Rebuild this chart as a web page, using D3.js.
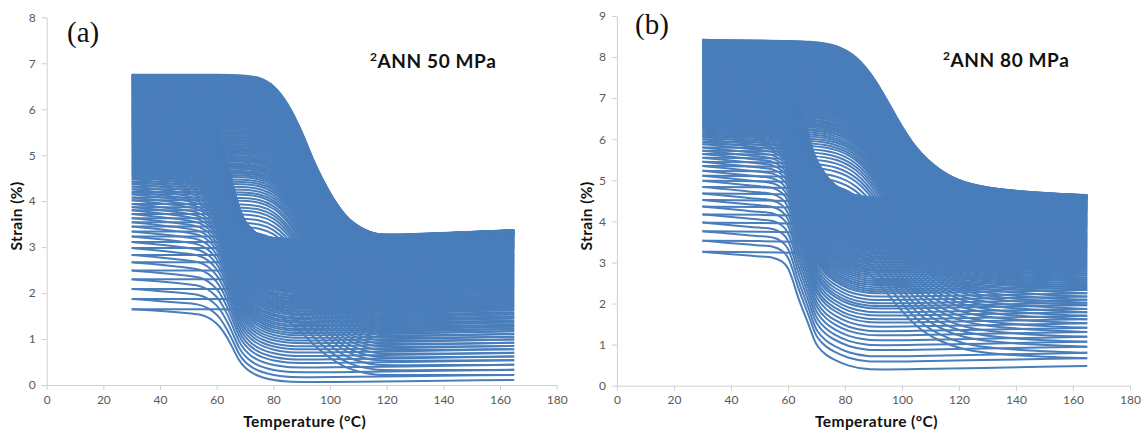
<!DOCTYPE html>
<html>
<head>
<meta charset="utf-8">
<script src="https://cdn.jsdelivr.net/npm/d3@7"></script>
<style>
  html, body { margin: 0; padding: 0; background: #ffffff; }
  svg { display: block; }
</style>
</head>
<body>
<svg id="chart" width="1145" height="432"></svg>
<script>
// ---- axis ticks ----
const tempTicks = [0, 20, 40, 60, 80, 100, 120, 140, 160, 180];
const strainTicksA = [0, 1, 2, 3, 4, 5, 6, 7, 8];
const strainTicksB = [0, 1, 2, 3, 4, 5, 6, 7, 8, 9];

// ---- labels ----
const panelTags = ["(a)", "(b)"];
const stressLabels = ["ANN 50 MPa", "ANN 80 MPa"];
const xTitle = "Temperature (°C)";
const yTitle = "Strain (%)";

// ---- 50 MPa: strain at 30 °C after each cooling (one value per cycle) ----
const strainColdA = [
  1.65, 1.87, 2.09, 2.30, 2.49, 2.67, 2.83, 2.98, 3.11, 3.23, 3.34, 3.45,
  3.54, 3.63, 3.72, 3.80, 3.87, 3.94, 4.02, 4.08, 4.15, 4.20, 4.26, 4.32,
  4.38, 4.43, 4.48, 4.53, 4.57, 4.61,
  4.64, 4.67, 4.71, 4.74, 4.77, 4.80, 4.83, 4.87, 4.90, 4.93, 4.96, 4.99, 5.03, 5.06,
  5.09, 5.12, 5.14, 5.17, 5.20, 5.23, 5.26, 5.28, 5.31, 5.34, 5.37, 5.40, 5.42, 5.45, 5.48, 5.51,
  5.53, 5.56, 5.58, 5.61, 5.63, 5.65, 5.68, 5.70, 5.73, 5.75, 5.77, 5.80, 5.82, 5.85, 5.87, 5.89, 5.92, 5.94,
  5.96, 5.98, 6.00, 6.02, 6.05, 6.07, 6.09, 6.11, 6.13, 6.15, 6.17, 6.19, 6.21, 6.23, 6.26, 6.28, 6.30, 6.32, 6.34, 6.36,
  6.38, 6.40, 6.41, 6.43, 6.45, 6.47, 6.48, 6.50, 6.52, 6.54, 6.56, 6.57, 6.59, 6.61, 6.63, 6.64, 6.66, 6.68, 6.70, 6.72, 6.73, 6.75
];
// ---- 50 MPa: strain at 165 °C before each cooling (cycles + final heating end) ----
const strainHotA = [
  0.11, 0.22, 0.33, 0.44, 0.54, 0.62, 0.70, 0.78, 0.85, 0.92, 0.99, 1.05, 1.11, 1.17, 1.22,
  1.27, 1.31, 1.36, 1.40, 1.45, 1.49, 1.54, 1.58, 1.63, 1.67,
  1.71, 1.74, 1.78, 1.81, 1.85, 1.88, 1.92, 1.95, 1.99, 2.02, 2.06, 2.09, 2.13, 2.16,
  2.19, 2.21, 2.24, 2.27, 2.29, 2.32, 2.35, 2.38, 2.40, 2.43, 2.46, 2.48, 2.51, 2.54, 2.56, 2.59,
  2.61, 2.63, 2.65, 2.67, 2.69, 2.72, 2.74, 2.76, 2.78, 2.80, 2.82, 2.84, 2.86, 2.88, 2.91, 2.93, 2.95, 2.97,
  2.98, 2.99, 3.01, 3.02, 3.04, 3.05, 3.06, 3.08, 3.09, 3.10, 3.12, 3.13, 3.14, 3.16, 3.17, 3.18, 3.20, 3.21, 3.22, 3.24, 3.25, 3.26,
  3.265, 3.27, 3.275, 3.28, 3.285, 3.29, 3.295, 3.30, 3.305, 3.31, 3.315, 3.32, 3.325, 3.33, 3.335, 3.34,
  3.344, 3.348, 3.352, 3.356, 3.36, 3.362, 3.364, 3.366, 3.368, 3.37
];
// ---- 50 MPa: transformation profiles (fraction of strain change vs temperature) ----
const coolTempsA = [30, 40, 45, 50, 54, 57, 60, 62, 65, 68, 70, 72, 74, 76, 80, 85, 90];
const coolFirstA = [1, 0.975, 0.96, 0.945, 0.93, 0.89, 0.81, 0.72, 0.53, 0.28, 0.2, 0.14, 0.1, 0.07, 0.03, 0.01, 0];
const coolLastA  = [1, 0.985, 0.975, 0.955, 0.91, 0.84, 0.71, 0.6, 0.37, 0.18, 0.105, 0.065, 0.035, 0.02, 0.008, 0.002, 0];
const heatTempsA = [30, 50, 60, 70, 75, 80, 85, 90, 94, 97, 101, 105, 108, 112, 116, 120];
const heatDropA  = [0, 0, 0, 0.003, 0.015, 0.06, 0.17, 0.35, 0.53, 0.64, 0.77, 0.87, 0.92, 0.965, 0.99, 1];

// ---- 80 MPa: strain at 30 °C after each cooling ----
const strainColdB = [
  3.26, 3.53, 3.76, 3.97, 4.17, 4.36, 4.52, 4.68, 4.84, 4.99, 5.11, 5.23,
  5.35, 5.45, 5.55, 5.64, 5.72, 5.80, 5.88, 5.94,
  6.00, 6.06, 6.11, 6.16, 6.21, 6.26,
  6.29, 6.33, 6.36, 6.39, 6.42, 6.46, 6.49, 6.52, 6.56, 6.59, 6.62, 6.66, 6.69, 6.72,
  6.75, 6.78, 6.80, 6.83, 6.86, 6.89, 6.92, 6.94, 6.97, 7.00, 7.03, 7.06, 7.08, 7.11, 7.14, 7.17,
  7.19, 7.21, 7.24, 7.26, 7.28, 7.31, 7.33, 7.35, 7.38, 7.40, 7.42, 7.45, 7.47, 7.49, 7.52, 7.54, 7.56, 7.58,
  7.60, 7.62, 7.64, 7.66, 7.68, 7.70, 7.72, 7.74, 7.76, 7.78, 7.80, 7.81, 7.83, 7.85, 7.87, 7.89, 7.91, 7.93, 7.95, 7.97, 7.99, 8.00,
  8.02, 8.04, 8.06, 8.07, 8.09, 8.11, 8.13, 8.14, 8.16, 8.18, 8.20, 8.21, 8.23, 8.25, 8.27, 8.28, 8.30, 8.32, 8.34, 8.35, 8.37, 8.39, 8.41, 8.42
];
// ---- 80 MPa: strain at 165 °C ----
const strainHotB = [
  0.48, 0.67, 0.80, 0.95, 1.07, 1.19, 1.31, 1.41, 1.52, 1.62, 1.70, 1.79, 1.87, 1.96, 2.02, 2.09, 2.17, 2.25, 2.33,
  2.38, 2.43, 2.48, 2.53, 2.58, 2.63, 2.68, 2.73, 2.78, 2.83,
  2.87, 2.91, 2.95, 2.99, 3.03, 3.07, 3.11, 3.15, 3.19, 3.23, 3.27, 3.31, 3.35, 3.39,
  3.42, 3.45, 3.48, 3.51, 3.54, 3.57, 3.60, 3.63, 3.66, 3.69, 3.72, 3.75, 3.78, 3.81, 3.84, 3.87,
  3.89, 3.91, 3.94, 3.96, 3.98, 4.00, 4.02, 4.05, 4.07, 4.09, 4.11, 4.13, 4.16, 4.18, 4.20, 4.22, 4.24, 4.27,
  4.28, 4.29, 4.31, 4.32, 4.33, 4.35, 4.36, 4.37, 4.39, 4.40, 4.41, 4.43, 4.44, 4.45, 4.47, 4.48, 4.49, 4.51, 4.52, 4.53,
  4.535, 4.54, 4.545, 4.55, 4.555, 4.56, 4.565, 4.57, 4.575, 4.58, 4.585, 4.59, 4.595, 4.60, 4.605, 4.61,
  4.615, 4.62, 4.624, 4.628, 4.632, 4.636, 4.638, 4.64
];
// ---- 80 MPa: transformation profiles ----
const coolTempsB = [30, 40, 45, 50, 55, 58, 60, 62, 63, 65, 67, 68.5, 70, 73.5, 76, 81, 88, 95];
const coolFirstB = [1, 0.98, 0.97, 0.96, 0.955, 0.92, 0.875, 0.74, 0.65, 0.52, 0.4, 0.3, 0.2, 0.12, 0.087, 0.03, 0, 0];
const coolLastB  = [1, 0.99, 0.98, 0.965, 0.93, 0.88, 0.82, 0.72, 0.66, 0.53, 0.42, 0.31, 0.24, 0.14, 0.09, 0.03, 0.008, 0];
const heatTempsB = [30, 50, 70, 77, 84, 91, 98, 105, 113, 121, 133, 151, 165];
const heatDropB  = [0, 0.003, 0.01, 0.035, 0.1, 0.26, 0.5, 0.71, 0.84, 0.92, 0.963, 0.989, 1];

const lineColor = "#4a7ebb";

const panels = [
  {
    tag: panelTags[0], stress: stressLabels[0], yTicks: strainTicksA,
    xRange: [46.7, 556.7], yRange: [385, 17.3],
    cold: strainColdA, hot: strainHotA,
    coolT: coolTempsA, coolFirst: coolFirstA, coolLast: coolLastA,
    heatT: heatTempsA, heatDrop: heatDropA,
    coolBase: r => r * 0.955 - 0.05, heatBase: r => r * 0.965,
    tagPos: [67, 42], stressPos: [370, 68], yTitleX: 22
  },
  {
    tag: panelTags[1], stress: stressLabels[1], yTicks: strainTicksB,
    xRange: [616.9, 1130], yRange: [385.7, 16],
    cold: strainColdB, hot: strainHotB,
    coolT: coolTempsB, coolFirst: coolFirstB, coolLast: coolLastB,
    heatT: heatTempsB, heatDrop: heatDropB,
    coolBase: r => r - 0.09, heatBase: r => r,
    tagPos: [635, 34], stressPos: [943, 67], yTitleX: 592
  }
];

const svg = d3.select("#chart");

panels.forEach(p => {
  const x = d3.scaleLinear().domain([0, 180]).range(p.xRange);
  const y = d3.scaleLinear().domain([0, d3.max(p.yTicks)]).range(p.yRange);
  const g = svg.append("g");

  // axes
  const xAxis = g.append("g")
    .attr("transform", `translate(0,${p.yRange[0]})`)
    .call(d3.axisBottom(x).tickValues(tempTicks).tickSize(5).tickSizeOuter(0).tickPadding(5));
  const yAxis = g.append("g")
    .attr("transform", `translate(${p.xRange[0]},0)`)
    .call(d3.axisLeft(y).tickValues(p.yTicks).tickSize(5).tickSizeOuter(0).tickPadding(6));
  [xAxis, yAxis].forEach(a => {
    a.select(".domain").attr("stroke", "#cfcfcf").attr("stroke-width", 1);
    a.selectAll(".tick line").attr("stroke", "#cfcfcf");
    a.selectAll(".tick text")
      .attr("fill", "#595959")
      .style("font-family", "Lato, 'Open Sans', sans-serif")
      .style("font-size", "12px");
  });

  // thermal cycles: one cooling and one heating branch per cycle
  const line = d3.line().x(d => x(d[0])).y(d => y(d[1])).curve(d3.curveBasis);
  const n = p.cold.length;
  const curves = g.append("g")
    .attr("fill", "none")
    .attr("stroke", lineColor)
    .attr("stroke-width", 2)
    .attr("stroke-linejoin", "round");

  for (let i = 0; i < n; i++) {
    const w = i / (n - 1);
    const h = p.cold[i];
    // cooling: 165 °C -> 30 °C
    const rc = p.hot[i];
    const bc = p.coolBase(rc);
    const cool = p.coolT.map((t, k) => {
      const f = (1 - w) * p.coolFirst[k] + w * p.coolLast[k];
      return [t, bc + (h - bc) * f];
    });
    cool.push([165, rc]);
    curves.append("path").attr("d", line(cool));

    // heating: 30 °C -> 165 °C
    const rh = p.hot[i + 1];
    const bh = p.heatBase(rh);
    const heat = p.heatT.map((t, k) => [t, h - (h - bh) * p.heatDrop[k]]);
    if (p.heatT[p.heatT.length - 1] < 165) heat.push([165, rh]);
    curves.append("path").attr("d", line(heat));
  }

  // titles
  const mid = (p.xRange[0] + p.xRange[1]) / 2;
  const titleFont = sel => sel
    .style("font-family", "Lato, sans-serif").style("font-weight", "bold")
    .style("font-size", "15.5px").style("letter-spacing", "0.4px")
    .attr("fill", "#111");
  g.append("text")
    .attr("x", mid + 3).attr("y", 427)
    .attr("text-anchor", "middle")
    .call(titleFont)
    .text(xTitle);
  g.append("text")
    .attr("transform", `translate(${p.yTitleX},216) rotate(-90)`)
    .attr("text-anchor", "middle")
    .call(titleFont)
    .text(yTitle);

  g.append("text")
    .attr("x", p.tagPos[0]).attr("y", p.tagPos[1])
    .style("font-family", "'Liberation Serif', 'DejaVu Serif', serif").style("font-size", "29px")
    .attr("fill", "#111")
    .text(p.tag);

  const st = g.append("text")
    .attr("x", p.stressPos[0]).attr("y", p.stressPos[1])
    .style("font-family", "Lato, sans-serif").style("font-weight", "bold").style("font-size", "19px")
    .style("letter-spacing", "0.6px")
    .attr("fill", "#111");
  st.append("tspan").style("font-size", "12px").attr("dy", -7).text("2");
  st.append("tspan").attr("dy", 7).text(p.stress);
});
</script>
</body>
</html>
